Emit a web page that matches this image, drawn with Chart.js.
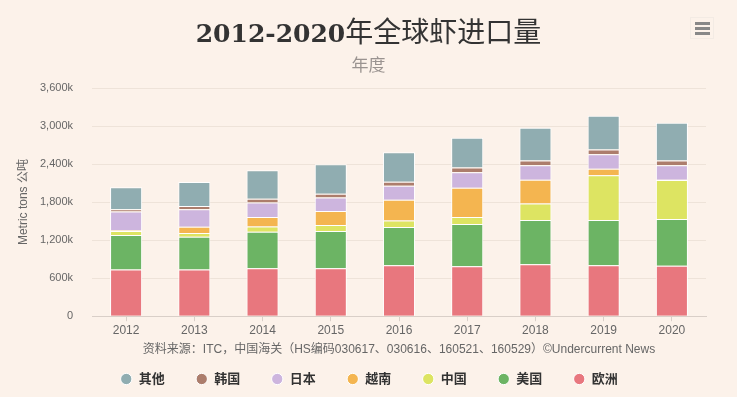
<!DOCTYPE html>
<html>
<head>
<meta charset="utf-8">
<script src="https://cdn.jsdelivr.net/npm/chart.js@4/dist/chart.umd.min.js"></script>
<style>
  html, body { margin: 0; padding: 0; background: #fcf2ea; }
  .wrap { position: relative; width: 737px; height: 397px; }
  .title {
    position: absolute; left: 0; top: 11px; width: 737px; text-align: center;
    color: #333; line-height: 38px; white-space: nowrap;
  }
  .title .num { font-family: "DejaVu Serif", serif; font-weight: bold; font-size: 25px; }
  .title .zh { font-family: "Noto Sans CJK SC", sans-serif; font-weight: normal; font-size: 28px; }
  .subtitle {
    position: absolute; left: 0; top: 51px; width: 737px; text-align: center;
    font-family: "Noto Sans CJK SC", sans-serif; font-size: 17px; color: #9a9390;
  }
  .menu-btn {
    position: absolute; left: 690px; top: 17px; width: 24px; height: 22px;
    border: 1px solid #f3ebe4; box-sizing: border-box;
  }
  .menu-btn span {
    position: absolute; left: 4px; width: 15px; height: 3px; background: #888;
  }
</style>
</head>
<body>
<div class="wrap">
  <div class="title"><span class="num">2012-2020</span><span class="zh">年全球虾进口量</span></div>
  <div class="subtitle">年度</div>
  <div class="menu-btn"><span style="top:4px"></span><span style="top:9px"></span><span style="top:14px"></span></div>
  <canvas id="shrimpChart" width="737" height="397"></canvas>
</div>
<script>
// Values in thousand metric tons
const years = ["2012", "2013", "2014", "2015", "2016", "2017", "2018", "2019", "2020"];
const europe = [735, 735, 757, 757, 805, 789, 820, 805, 794];
const usa = [546, 519, 576, 587, 603, 666, 699, 714, 741];
const china = [63, 58, 84, 95, 100, 111, 259, 703, 612];
const vietnam = [10, 100, 149, 222, 328, 461, 376, 106, 7];
const japan = [296, 275, 227, 212, 222, 242, 227, 227, 227];
const korea = [37, 53, 59, 58, 64, 75, 74, 75, 74];
const others = [349, 376, 450, 466, 465, 470, 518, 533, 597];
const yTicks = [0, 600, 1200, 1800, 2400, 3000, 3600];

const fontFamily = '"Liberation Sans", Arial, "Noto Sans CJK SC", sans-serif';

function makeSet(label, data, color) {
  return {
    label: label,
    data: data,
    backgroundColor: color,
    borderColor: "#ffffff",
    borderWidth: 1,
    barPercentage: 0.47,
    categoryPercentage: 1,
  };
}

// nudge the legend a bit to the right, like the original
const legendShift = {
  id: "legendShift",
  afterLayout: function (chart) {
    chart.legend.left += 10;
    chart.legend.right += 10;
  },
};

const ctx = document.getElementById("shrimpChart").getContext("2d");
const shrimpChart = new Chart(ctx, {
  type: "bar",
  data: {
    labels: years,
    datasets: [
      makeSet("欧洲", europe, "#e8777e"),
      makeSet("美国", usa, "#6cb464"),
      makeSet("中国", china, "#dde462"),
      makeSet("越南", vietnam, "#f4b550"),
      makeSet("日本", japan, "#cdb5de"),
      makeSet("韩国", korea, "#ac7d6c"),
      makeSet("其他", others, "#90adb1"),
    ],
  },
  options: {
    responsive: false,
    animation: false,
    layout: {
      padding: { top: 88, right: 31, left: 12, bottom: 1.5 },
    },
    plugins: {
      legend: {
        position: "bottom",
        reverse: true,
        labels: {
          usePointStyle: true,
          pointStyle: "circle",
          boxWidth: 12,
          boxHeight: 8,
          padding: 31,
          color: "#333333",
          font: { family: fontFamily, size: 13, weight: "bold" },
        },
      },
      title: {
        display: true,
        position: "bottom",
        fullSize: false,
        weight: 500,
        text: "资料来源：ITC，中国海关（HS编码030617、030616、160521、160529）©Undercurrent News",
        color: "#666666",
        font: { family: fontFamily, size: 12, weight: "normal" },
        padding: { top: 3, bottom: -15.5 },
      },
      tooltip: { enabled: false },
    },
    scales: {
      x: {
        stacked: true,
        grid: {
          offset: false,
          drawOnChartArea: false,
          drawTicks: true,
          tickLength: 5,
          color: "#d9cfc8",
        },
        border: { display: true, color: "#d9cfc8" },
        ticks: {
          color: "#666666",
          padding: 2,
          font: { family: fontFamily, size: 12 },
        },
      },
      y: {
        stacked: true,
        min: 0,
        max: 3600,
        afterBuildTicks: function (scale) {
          scale.ticks = yTicks.map(function (v) { return { value: v }; });
        },
        afterFit: function (scale) {
          scale.width = 80;
        },
        grid: { drawTicks: false, color: "#eee3d9" },
        border: { display: false },
        ticks: {
          color: "#666666",
          padding: 19,
          font: { family: fontFamily, size: 11 },
          callback: function (value) {
            return value === 0 ? "0" : value.toLocaleString("en-US") + "k";
          },
        },
        title: {
          display: true,
          text: "Metric tons 公吨",
          color: "#666666",
          font: { family: fontFamily, size: 12 },
          padding: { top: 4, bottom: 4 },
        },
      },
    },
  },
  plugins: [legendShift],
});
</script>
</body>
</html>
